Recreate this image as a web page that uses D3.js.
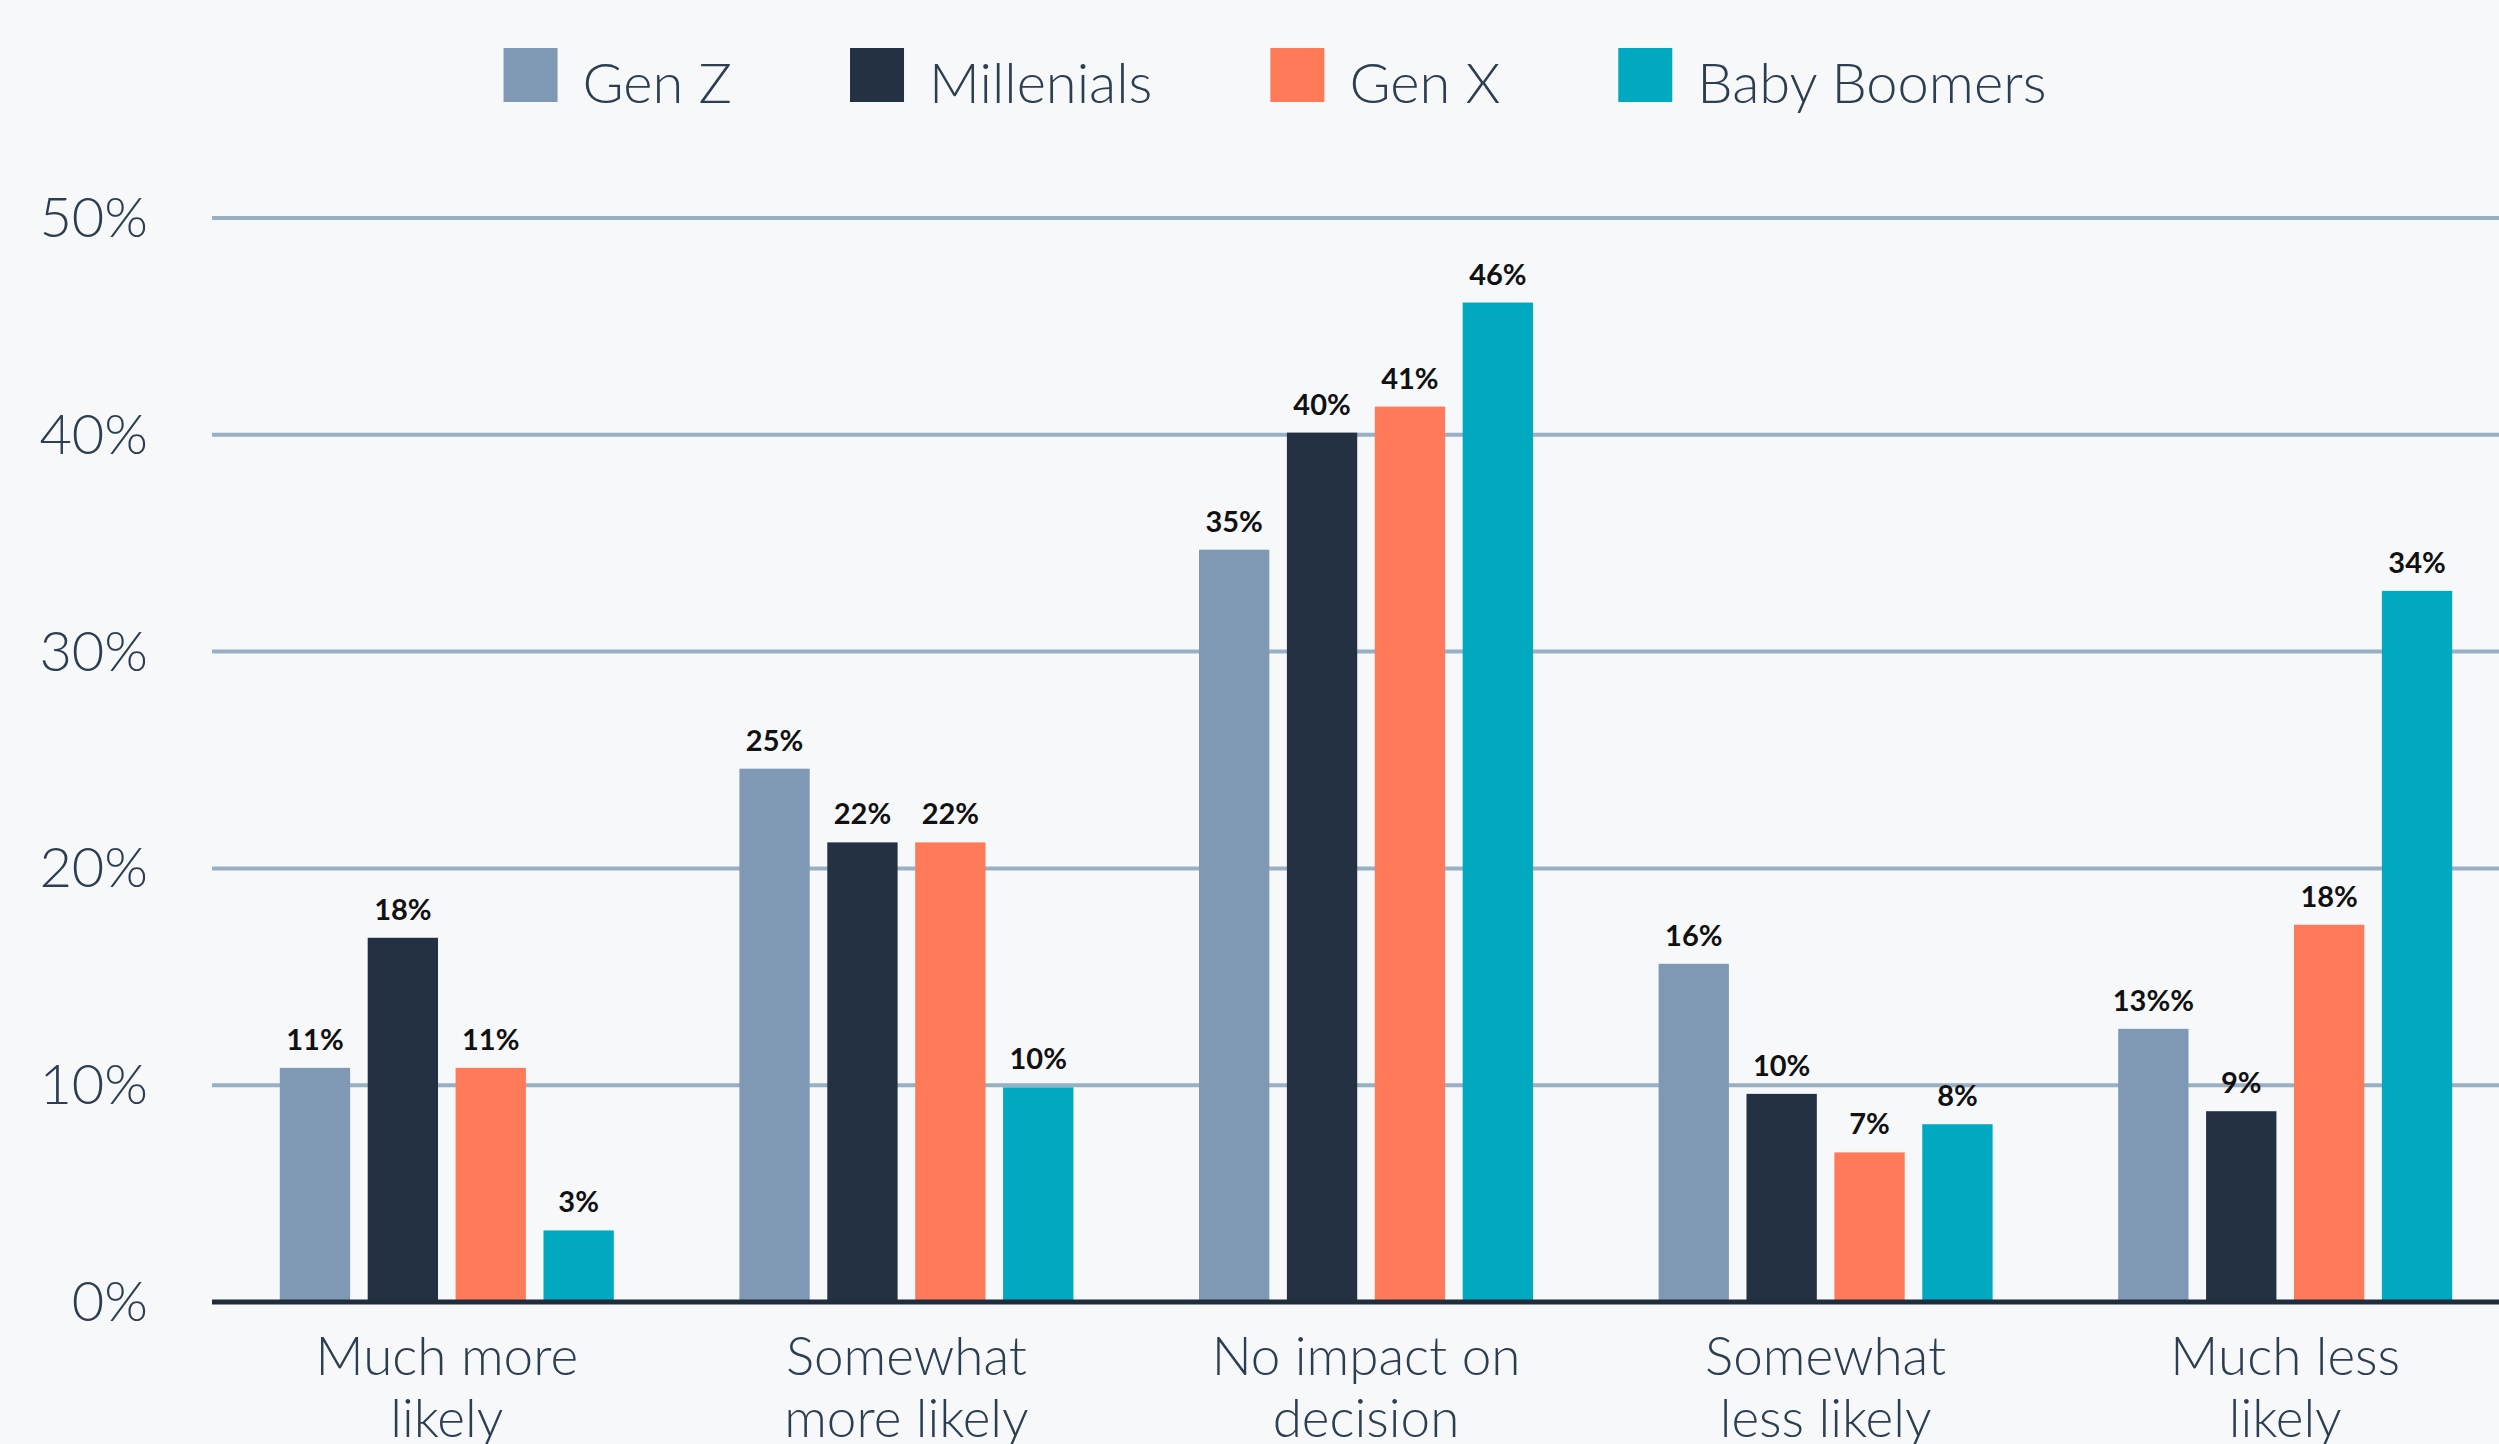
<!DOCTYPE html>
<html>
<head>
<meta charset="utf-8">
<script src="https://cdn.jsdelivr.net/npm/d3@7"></script>
<style>
  html, body { margin: 0; padding: 0; background: #f6f8fa; }
  svg { display: block; }
</style>
</head>
<body>
<div id="chart"></div>
<script>
(function(){
  const categories = [
    ["Much more", "likely"],
    ["Somewhat", "more likely"],
    ["No impact on", "decision"],
    ["Somewhat", "less likely"],
    ["Much less", "likely"]
  ];
  const seriesNames = ["Gen Z", "Millenials", "Gen X", "Baby Boomers"];
  const seriesColors = ["#7f99b4", "#233142", "#ff7a59", "#00a8c0"];

  // bar heights as drawn in the picture
  const genZ = [10.8, 24.6, 34.7, 15.6, 12.6];
  const millenials = [16.8, 21.2, 40.1, 9.6, 8.8];
  const genX = [10.8, 21.2, 41.3, 6.9, 17.4];
  const boomers = [3.3, 9.9, 46.1, 8.2, 32.8];

  // labels printed above the bars
  const genZLabels = ["11%", "25%", "35%", "16%", "13%%"];
  const millenialsLabels = ["18%", "22%", "40%", "10%", "9%"];
  const genXLabels = ["11%", "22%", "41%", "7%", "18%"];
  const boomersLabels = ["3%", "10%", "46%", "8%", "34%"];

  const yTicks = [0, 10, 20, 30, 40, 50];

  const seriesValues = [genZ, millenials, genX, boomers];
  const seriesLabels = [genZLabels, millenialsLabels, genXLabels, boomersLabels];

  const width = 2499;
  const height = 1444;
  const left = 212;
  const baseY = 1302;
  const topY = 218;

  const svg = d3.select("#chart")
    .append("svg")
    .attr("width", width)
    .attr("height", height);

  svg.append("rect")
    .attr("width", width)
    .attr("height", height)
    .attr("fill", "#f6f8fa");

  const x0 = d3.scaleBand()
    .domain(d3.range(categories.length))
    .range([left + 5, 2515])
    .paddingInner(0);

  const x1 = d3.scaleBand()
    .domain(d3.range(seriesNames.length))
    .range([-167, 167])
    .paddingInner(0.2);

  const y = d3.scaleLinear()
    .domain([0, 50])
    .range([baseY, topY]);

  // gridlines
  svg.append("g")
    .selectAll("line")
    .data(yTicks.filter(t => t > 0))
    .enter().append("line")
    .attr("x1", left)
    .attr("x2", width)
    .attr("y1", d => y(d))
    .attr("y2", d => y(d))
    .attr("stroke", "#99afc4")
    .attr("stroke-width", 4);

  // y tick labels
  svg.append("g")
    .selectAll("text")
    .data(yTicks)
    .enter().append("text")
    .attr("x", 148)
    .attr("y", d => y(d) + 19)
    .attr("text-anchor", "end")
    .attr("font-family", "Lato, sans-serif")
    .attr("font-weight", 300)
    .attr("font-size", 56)
    .attr("fill", "#2d3e50")
    .text(d => d + "%");

  // bars
  const groups = svg.append("g")
    .selectAll("g")
    .data(categories)
    .enter().append("g")
    .attr("transform", (d, i) => `translate(${x0(i) + x0.bandwidth() / 2},0)`);

  const barData = (d, i) => seriesValues.map((vals, s) => ({ s: s, v: vals[i], label: seriesLabels[s][i] }));

  groups.selectAll("rect")
    .data(barData)
    .enter().append("rect")
    .attr("x", d => x1(d.s))
    .attr("width", x1.bandwidth())
    .attr("y", d => y(d.v))
    .attr("height", d => baseY - y(d.v))
    .attr("fill", d => seriesColors[d.s]);

  groups.selectAll("text.value")
    .data(barData)
    .enter().append("text")
    .attr("class", "value")
    .attr("x", d => x1(d.s) + x1.bandwidth() / 2)
    .attr("y", d => y(d.v) - 18)
    .attr("text-anchor", "middle")
    .attr("font-family", "Lato, sans-serif")
    .attr("font-weight", 700)
    .attr("font-size", 29)
    .attr("fill", "#111111")
    .text(d => d.label);

  // baseline
  svg.append("line")
    .attr("x1", left)
    .attr("x2", width)
    .attr("y1", baseY)
    .attr("y2", baseY)
    .attr("stroke", "#1f2d3d")
    .attr("stroke-width", 5);

  // category labels
  const catText = groups.append("text")
    .attr("text-anchor", "middle")
    .attr("font-family", "Lato, sans-serif")
    .attr("font-weight", 300)
    .attr("font-size", 53)
    .attr("fill", "#2d3e50");
  catText.selectAll("tspan")
    .data(d => d)
    .enter().append("tspan")
    .attr("x", 0)
    .attr("y", (d, i) => baseY + 73 + i * 62)
    .text(d => d);

  // legend
  const legend = svg.append("g");
  const items = legend.selectAll("g")
    .data(seriesNames)
    .enter().append("g");
  items.append("rect")
    .attr("y", 48)
    .attr("width", 54)
    .attr("height", 54)
    .attr("fill", (d, i) => seriesColors[i]);
  items.append("text")
    .attr("x", 79)
    .attr("y", 103)
    .attr("font-family", "Lato, sans-serif")
    .attr("font-weight", 300)
    .attr("font-size", 56)
    .attr("fill", "#2d3e50")
    .text(d => d);

  const gap = 118;
  let offset = 0;
  const starts = [];
  items.each(function(d, i) {
    const w = 79 + d3.select(this).select("text").node().getComputedTextLength();
    starts.push(offset);
    offset += w + gap;
  });
  const total = offset - gap;
  const start = 1275 - total / 2;
  items.attr("transform", (d, i) => `translate(${start + starts[i]},0)`);
})();
</script>
</body>
</html>
